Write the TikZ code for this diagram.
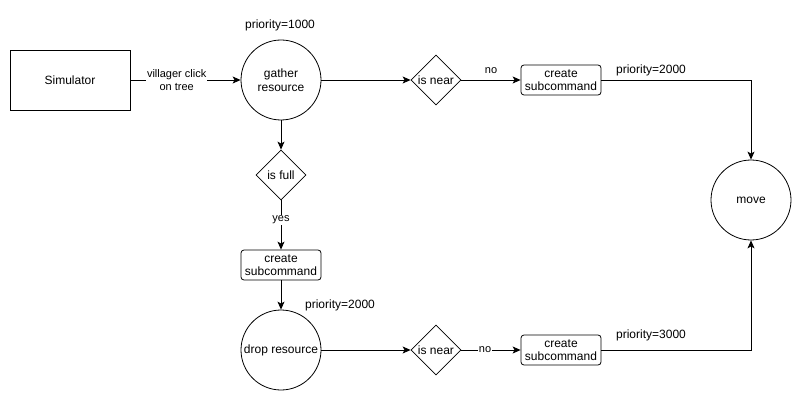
\documentclass[tikz,border=0pt]{standalone}
\usepackage{fontspec}
\setmainfont{Liberation Sans}
\usetikzlibrary{shapes.geometric,arrows.meta}
\begin{document}
\begin{tikzpicture}[x=1pt,y=-1pt,
  every node/.style={font=\fontsize{12}{14}\selectfont, inner sep=0pt, align=center},
  proc/.style={circle, draw, minimum size=80pt, line width=0.8pt},
  dec/.style={diamond, draw, minimum width=50pt, minimum height=50pt, aspect=1, line width=0.8pt},
  sub/.style={rectangle, rounded corners=3pt, draw, minimum width=80pt, minimum height=30pt, line width=0.8pt, font=\fontsize{12}{13}\selectfont},
  lbl/.style={font=\fontsize{11}{13}\selectfont},
  conn/.style={line width=0.8pt, -{Stealth[length=8pt,width=7pt,inset=2pt]}}
]
\useasboundingbox (0,0) rectangle (801,401);
\node[draw, line width=0.8pt, minimum width=120pt, minimum height=60pt] (sim) at (70,80) {Simulator};
\node[proc] (gather) at (281,80) {gather\\resource};
\node (p1) at (280,25) {priority=1000};
\node[dec] (near1) at (436,80) {is near};
\node[sub] (sub1) at (561,80) {create\\subcommand};
\node (p2) at (651,70) {priority=2000};
\node[proc] (move) at (751,200) {move};
\node[dec] (full) at (281,175) {is full};
\node[sub] (sub2) at (281,265) {create\\subcommand};
\node[proc] (drop) at (281,350) {drop resource};
\node (p3) at (340,305) {priority=2000};
\node[dec] (near2) at (436,350) {is near};
\node[sub] (sub3) at (561,350) {create\\subcommand};
\node (p4) at (651,335) {priority=3000};
\coordinate (c1) at (751,80);
\coordinate (c2) at (751,350);

\draw[conn] (sim) -- node[lbl, fill=white, inner sep=1pt, pos=0.42] {villager click\\on tree} (gather);
\draw[conn] (gather) -- (near1);
\draw[conn] (near1) -- node[lbl, above=6pt] {no} (sub1);
\draw[conn] (sub1) -- (c1) -- (move);
\draw[conn] (gather) -- (full);
\draw[conn] (full) -- node[lbl, fill=white, inner sep=1pt, pos=0.4] {yes} (sub2);
\draw[conn] (sub2) -- (drop);
\draw[conn] (drop) -- (near2);
\draw[conn] (near2) -- node[lbl, fill=white, inner sep=1pt, pos=0.4] {no} (sub3);
\draw[conn] (sub3) -- (c2) -- (move);
\end{tikzpicture}
\end{document}
